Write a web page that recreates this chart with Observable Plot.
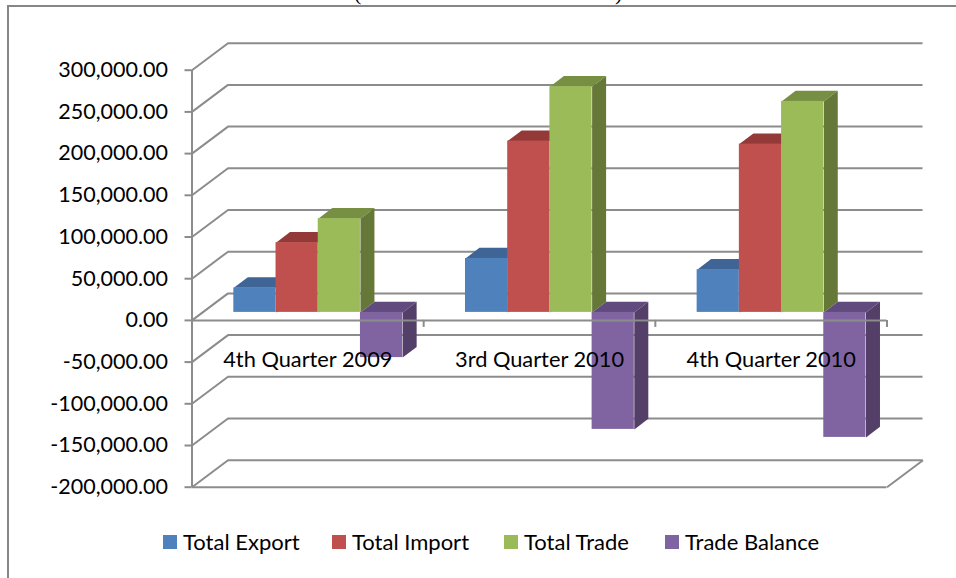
<!DOCTYPE html>
<html>
<head>
<meta charset="utf-8">
<script src="https://cdn.jsdelivr.net/npm/d3@7"></script>
<script src="https://cdn.jsdelivr.net/npm/@observablehq/plot@0.6"></script>
<style>
  html, body { margin: 0; padding: 0; background: #fff; width: 956px; height: 578px; overflow: hidden; }
  #page { position: relative; width: 956px; height: 578px; overflow: hidden; font-family: Lato, sans-serif; color: #000; }
  #frame { position: absolute; left: 7px; top: 5px; width: 1000px; height: 640px; border-left: 2px solid #868686; border-top: 2px solid #868686; }
  #chart { position: absolute; left: 0; top: 0; }
  .title { position: absolute; top: -20px; font: 22px "Liberation Serif", serif; }
  #legend { position: absolute; left: 163px; top: 528px; display: grid; grid-template-columns: 169px 172px 161px auto; font-size: 22px; line-height: 28px; }
  #legend div { display: flex; align-items: center; }
  #legend i { display: block; width: 14px; height: 14px; margin-right: 6px; }
</style>
</head>
<body>
<div id="page">
  <div id="frame"></div>
  <span class="title" style="left:354px">(</span>
  <span class="title" style="left:615px">)</span>
  <div id="chart"></div>
  <div id="legend"></div>
</div>
<script>
const quarters = ["4th Quarter 2009", "3rd Quarter 2010", "4th Quarter 2010"];
const totalExport = [29400, 64700, 51200];
const totalImport = [83600, 205400, 201800];
const totalTrade = [112400, 270600, 253000];
const tradeBalance = [-54200, -140300, -149900];
const yTicks = [300000, 250000, 200000, 150000, 100000, 50000, 0, -50000, -100000, -150000, -200000];
const seriesNames = ["Total Export", "Total Import", "Total Trade", "Trade Balance"];
const frontColors = ["#4f81bd", "#c0504d", "#9bbb59", "#8064a2"];
const topColors = ["#3e6596", "#933a38", "#778f43", "#614a7d"];
const sideColors = ["#35567f", "#7d302e", "#667838", "#533f68"];
const seriesValues = [totalExport, totalImport, totalTrade, tradeBalance];

const gridColor = "#8c8c8c";
const gridWidth = 2;
const wallDx = 0.1555, wallDy = 32400;     // depth of the box
const barW = 0.1822, barStart = 0.1805;    // within a category
const barDx = 0.0604, barDy = 12700;       // depth of a bar
const baseY = 9600;                        // bars stand inside the box, above the front zero line

const fmt = v => d3.format(",.2f")(v).replace("\u2212", "-");

const seriesMarks = seriesNames.flatMap((name, j) => {
  const fronts = [], faces = [];
  seriesValues[j].forEach((v, i) => {
    const x1 = i + barStart + j * barW, x2 = x1 + barW;
    const yEnd = baseY + v, hi = Math.max(baseY, yEnd), lo = Math.min(baseY, yEnd);
    fronts.push({x1, x2, y1: baseY, y2: yEnd});
    const top = `t${i}`, side = `s${i}`;
    [[x1, hi], [x2, hi], [x2 + barDx, hi + barDy], [x1 + barDx, hi + barDy]]
      .forEach(([x, y]) => faces.push({x, y, z: top, c: topColors[j]}));
    [[x2, lo], [x2 + barDx, lo + barDy], [x2 + barDx, hi + barDy], [x2, hi]]
      .forEach(([x, y]) => faces.push({x, y, z: side, c: sideColors[j]}));
  });
  return [
    Plot.line(faces, {x: "x", y: "y", z: "z", fill: "c", stroke: "none", curve: "linear"}),
    Plot.rect(fronts, {x1: "x1", x2: "x2", y1: "y1", y2: "y2", fill: frontColors[j]})
  ];
});

const chart = Plot.plot({
  width: 956,
  height: 578,
  marginLeft: 191.5,
  marginRight: 69.5,
  marginTop: 69.7,
  marginBottom: 91.3,
  style: {fontFamily: "Lato, sans-serif", fontSize: "21.5px", background: "transparent", color: "#000"},
  x: {domain: [0, 3], axis: null},
  y: {domain: [-200000, 300000], axis: null},
  marks: [
    // back wall and side wall
    Plot.ruleY(yTicks, {x1: wallDx, x2: 3 + wallDx, y: d => d + wallDy, stroke: gridColor, strokeWidth: gridWidth}),
    Plot.link(yTicks, {x1: 0, x2: wallDx, y1: d => d, y2: d => d + wallDy, stroke: gridColor, strokeWidth: gridWidth}),
    Plot.link([-200000], {x1: 3, x2: 3 + wallDx, y1: d => d, y2: d => d + wallDy, stroke: gridColor, strokeWidth: gridWidth}),
    ...seriesMarks,
    // front axes
    Plot.ruleY([0, -200000], {x1: 0, x2: 3, stroke: gridColor, strokeWidth: gridWidth}),
    Plot.ruleX([0], {y1: -200000, y2: 300000, stroke: gridColor, strokeWidth: gridWidth}),
    Plot.ruleX([1, 2, 3], {y1: 0, y2: -8400, stroke: gridColor, strokeWidth: gridWidth}),
    Plot.axisY({ticks: yTicks, tickFormat: fmt, tickSize: 7, tickPadding: 17, stroke: gridColor, strokeWidth: gridWidth, color: "#000"}),
    Plot.text(quarters, {x: (d, i) => i + 0.5, y: () => 0, text: d => d, dy: 40, fontSize: 21.8, fill: "#000"})
  ]
});
document.getElementById("chart").append(chart);

const legend = document.getElementById("legend");
seriesNames.forEach((name, j) => {
  const item = document.createElement("div");
  const sw = document.createElement("i");
  sw.style.background = frontColors[j];
  item.append(sw, document.createTextNode(name));
  legend.append(item);
});
</script>
</body>
</html>
